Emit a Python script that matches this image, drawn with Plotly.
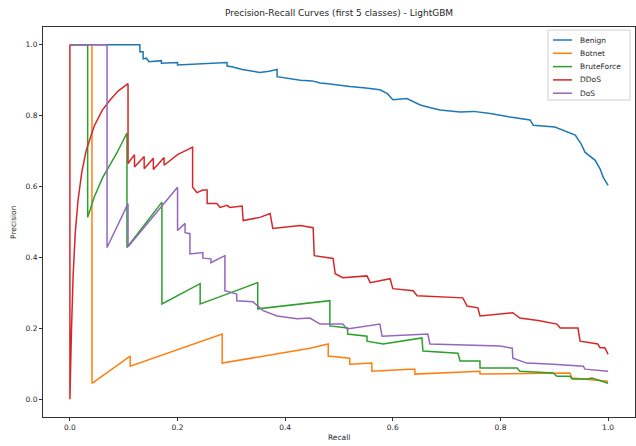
import plotly.graph_objects as go

# ---- data (recall, precision) ----
class_names = ["Benign", "Botnet", "BruteForce", "DDoS", "DoS"]
colors = ["#1f77b4", "#ff7f0e", "#2ca02c", "#d62728", "#9467bd"]

benign_recall = [0, 0.13, 0.13, 0.136, 0.136, 0.142, 0.147, 0.17, 0.17, 0.2, 0.2, 0.229, 0.26, 0.292,
                 0.292, 0.303, 0.32, 0.34, 0.353, 0.37, 0.385, 0.385, 0.41, 0.428, 0.45, 0.465, 0.48,
                 0.493, 0.52, 0.55, 0.576, 0.59, 0.6, 0.626, 0.651, 0.67, 0.688, 0.725, 0.75, 0.781,
                 0.8, 0.818, 0.855, 0.861, 0.901, 0.92, 0.939, 0.95, 0.957, 0.976, 0.985, 0.991, 1.0]
benign_precision = [1, 1, 0.98, 0.98, 0.96, 0.962, 0.952, 0.955, 0.948, 0.95, 0.943, 0.945, 0.948, 0.95,
                    0.94, 0.937, 0.93, 0.925, 0.922, 0.925, 0.93, 0.91, 0.905, 0.9, 0.898, 0.892, 0.89,
                    0.887, 0.882, 0.878, 0.873, 0.862, 0.845, 0.848, 0.83, 0.822, 0.816, 0.81, 0.812, 0.806,
                    0.8, 0.796, 0.788, 0.773, 0.768, 0.757, 0.745, 0.72, 0.697, 0.674, 0.65, 0.626, 0.603]

botnet_recall = [0, 0.041, 0.041, 0.112, 0.112, 0.283, 0.283, 0.446, 0.48, 0.48, 0.52, 0.52, 0.561,
                 0.561, 0.632, 0.641, 0.641, 0.762, 0.762, 0.929, 0.933, 1.0]
botnet_precision = [1, 1, 0.045, 0.122, 0.093, 0.184, 0.102, 0.144, 0.156, 0.122, 0.116, 0.099, 0.102,
                    0.079, 0.085, 0.085, 0.071, 0.079, 0.071, 0.074, 0.06, 0.051]

brute_recall = [0, 0.033, 0.033, 0.045, 0.061, 0.087, 0.106, 0.106, 0.171, 0.171, 0.242, 0.242, 0.273,
                0.349, 0.349, 0.483, 0.483, 0.516, 0.516, 0.552, 0.552, 0.582, 0.654, 0.656, 0.721,
                0.725, 0.762, 0.762, 0.831, 0.836, 0.898, 0.905, 0.929, 0.933, 0.963, 0.97, 1.0]
brute_precision = [1, 1, 0.513, 0.57, 0.626, 0.694, 0.751, 0.428, 0.556, 0.269, 0.326, 0.269, 0.286,
                   0.329, 0.255, 0.278, 0.207, 0.201, 0.184, 0.178, 0.164, 0.156, 0.173, 0.136, 0.13,
                   0.108, 0.108, 0.088, 0.088, 0.079, 0.074, 0.065, 0.065, 0.057, 0.057, 0.06, 0.045]

ddos_recall = [0, 0, 0.003, 0.006, 0.01, 0.015, 0.022, 0.03, 0.045, 0.06, 0.075, 0.09, 0.108, 0.108,
               0.12, 0.12, 0.138, 0.138, 0.155, 0.155, 0.175, 0.175, 0.2, 0.228, 0.228, 0.236, 0.247,
               0.255, 0.255, 0.273, 0.279, 0.292, 0.297, 0.32, 0.322, 0.353, 0.372, 0.377, 0.428, 0.452,
               0.454, 0.489, 0.493, 0.507, 0.552, 0.558, 0.595, 0.6, 0.638, 0.645, 0.73, 0.738, 0.758,
               0.762, 0.823, 0.836, 0.87, 0.905, 0.911, 0.944, 0.948, 0.981, 0.985, 0.994, 1.0]
ddos_precision = [1, 0, 0.2, 0.35, 0.47, 0.56, 0.64, 0.7, 0.77, 0.815, 0.845, 0.87, 0.89, 0.665,
                  0.69, 0.655, 0.685, 0.65, 0.68, 0.648, 0.682, 0.66, 0.69, 0.711, 0.598, 0.583, 0.59,
                  0.59, 0.552, 0.552, 0.541, 0.547, 0.541, 0.545, 0.504, 0.513, 0.524, 0.482, 0.49, 0.484,
                  0.405, 0.397, 0.354, 0.343, 0.348, 0.329, 0.34, 0.312, 0.306, 0.292, 0.286, 0.263, 0.258,
                  0.235, 0.244, 0.229, 0.222, 0.212, 0.201, 0.201, 0.164, 0.156, 0.145, 0.145, 0.127]

dos_recall = [0, 0.069, 0.069, 0.108, 0.108, 0.2, 0.2, 0.214, 0.214, 0.223, 0.223, 0.247, 0.247, 0.262,
              0.262, 0.288, 0.288, 0.31, 0.31, 0.34, 0.359, 0.385, 0.422, 0.446, 0.465, 0.507, 0.515,
              0.576, 0.58, 0.665, 0.669, 0.799, 0.822, 0.823, 0.849, 0.898, 0.954, 0.957, 1.0]
dos_precision = [1, 1, 0.428, 0.552, 0.43, 0.598, 0.476, 0.496, 0.47, 0.467, 0.41, 0.414, 0.398, 0.396,
                 0.385, 0.405, 0.306, 0.297, 0.278, 0.275, 0.25, 0.235, 0.227, 0.229, 0.212, 0.212, 0.198,
                 0.212, 0.178, 0.184, 0.156, 0.15, 0.144, 0.116, 0.102, 0.099, 0.093, 0.085, 0.079]

series = [
    (benign_recall, benign_precision),
    (botnet_recall, botnet_precision),
    (brute_recall, brute_precision),
    (ddos_recall, ddos_precision),
    (dos_recall, dos_precision),
]

tick_vals = [0.0, 0.2, 0.4, 0.6, 0.8, 1.0]
tick_text = ["0.0", "0.2", "0.4", "0.6", "0.8", "1.0"]

FONT = "DejaVu Sans"
TXT = "#262626"

# plot-area geometry (pixels) used to place the compact legend
W, H = 636, 446
ML, MR, MT, MB = 43, 1, 27, 29
PW, PH = W - ML - MR, H - MT - MB


def px_x(p):
    return (p - ML) / PW


def px_y(p):
    return (H - MB - p) / PH


fig = go.Figure()
for name, color, (r, p) in zip(class_names, colors, series):
    fig.add_trace(go.Scatter(x=r, y=p, mode="lines", name=name, showlegend=False,
                             line=dict(color=color, width=1.5)))

axis_common = dict(
    showgrid=False, zeroline=False, showline=True, mirror=True,
    linecolor="#333333", linewidth=1, ticks="outside", ticklen=3,
    tickcolor="#333333", tickwidth=1,
    tickvals=tick_vals, ticktext=tick_text,
    tickfont=dict(family=FONT, size=7.5, color=TXT),
)

# compact legend (upper right), matplotlib style
shapes = [dict(type="rect", xref="paper", yref="paper",
               x0=px_x(548), x1=px_x(630), y0=px_y(100), y1=px_y(30),
               line=dict(color="#d0d0d0", width=1), fillcolor="rgba(255,255,255,0.85)",
               layer="above")]
annotations = []
row0, step = 40, 13.3
for i, (name, color) in enumerate(zip(class_names, colors)):
    yy = px_y(row0 + i * step)
    shapes.append(dict(type="line", xref="paper", yref="paper",
                       x0=px_x(553), x1=px_x(572), y0=yy, y1=yy,
                       line=dict(color=color, width=1.5), layer="above"))
    annotations.append(dict(text=name, x=px_x(578), y=yy, xref="paper", yref="paper",
                            xanchor="left", yanchor="middle", showarrow=False,
                            font=dict(family=FONT, size=7.5, color=TXT)))

annotations += [
    dict(text="Recall", x=0.5, xref="paper", y=px_y(437), yref="paper",
         yanchor="middle", xanchor="center", showarrow=False,
         font=dict(family=FONT, size=7.5, color=TXT)),
    dict(text="Precision", x=px_x(13), xref="paper", y=0.5, yref="paper",
         textangle=-90, xanchor="center", yanchor="middle", showarrow=False,
         font=dict(family=FONT, size=7.5, color=TXT)),
]

fig.update_layout(
    width=W, height=H,
    margin=dict(l=ML, r=MR, t=MT, b=MB),
    paper_bgcolor="white", plot_bgcolor="white",
    xaxis=dict(range=[-0.05, 1.05], **axis_common),
    yaxis=dict(range=[-0.05, 1.05], **axis_common),
    title=dict(text="Precision-Recall Curves (first 5 classes) - LightGBM",
               x=0.5, xref="paper", xanchor="center",
               y=1 - 13 / H, yref="container", yanchor="middle",
               font=dict(family=FONT, size=9, color=TXT)),
    showlegend=False,
    shapes=shapes,
    annotations=annotations,
)

fig.write_html("out.html")
